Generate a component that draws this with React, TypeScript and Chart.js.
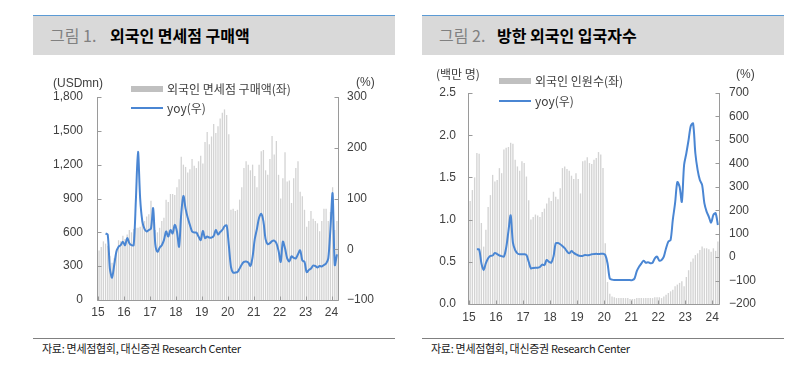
import React, { useEffect, useRef } from "react";
import { Chart, registerables } from "chart.js";

Chart.register(...registerables);

// ---------- data (monthly, Jan 2015 – Mar 2024) ----------
const YEAR_LABELS = ["15", "16", "17", "18", "19", "20", "21", "22", "23", "24"];

// 그림 1: 외국인 면세점 구매액 (USDmn)
const salesUsdMn = [
  440, 470, 520, 500, 480, 390, 330, 370, 450, 530, 520, 570,
  540, 580, 620, 600, 630, 640, 640, 650, 720, 700, 740, 760,
  880, 700, 620, 600, 640, 700, 730, 890, 870, 940, 940, 930,
  1000, 1070, 1270, 1200, 1180, 1130, 1160, 1250, 1190, 1170, 1230, 1280,
  1210, 1400, 1490, 1380, 1450, 1560, 1480, 1540, 1610, 1660, 1690, 1640,
  1470, 800, 810, 790, 800, 890, 1000, 1170, 1230, 1200, 1150, 1200,
  1100, 1000, 1200, 1320, 1330, 1150, 1110, 1250, 1455, 1290, 1410, 1110,
  900, 1080, 1310, 1050, 1060, 860, 1080, 1170, 1230, 960, 920, 800,
  650, 700, 790, 720, 700, 680, 610, 700, 810, 810, 700, 780,
  1000, 620, 700,
];

// 그림 1: yoy (%)
const salesYoy: (number | null)[] = [
  null, null, null, 31, 29, -38, -56, -31, -5, 5, 8, 15,
  8, 22, 12, 8, 8, 95, 192, 100, 55, 40, 35, 38,
  41, 81, 10, -5, 3, 8, 18, 35, 25, 38, 31, 48,
  35, 5, 70, 105, 80, 62, 48, 35, 33, 33, 25, 18,
  36, 22, 25, 23, 23, 26, 38, 29, 34, 38, 45, 47,
  8, -35, -46, -46, -45, -38, -30, -25, -24, -26, -33, -15,
  20, 40, 62, 70, 55, 20, 10, 12, 16, 17, 12, -3,
  -25, 15, 2, -18, -24, -14, -17, -18, -10, -2, -22, -25,
  -45, -41, -38, -32, -33, -36, -33, -34, -31, -28, -18, 40,
  110, -31, -10,
];

// 그림 2: 외국인 인원수 (백만 명)
const arrivalsMn = [
  1.22, 1.35, 1.5, 1.79, 1.78, 0.96, 0.68, 0.88, 1.15, 1.29, 1.53, 1.45,
  1.47, 1.61, 1.55, 1.83, 1.85, 1.86, 1.91, 1.9, 1.71, 1.63, 1.58, 1.69,
  1.67, 1.51, 1.23, 1.0, 1.03, 1.06, 1.05, 1.03, 1.09, 1.13, 1.19, 1.26,
  1.22, 1.33, 1.27, 1.24, 1.37, 1.61, 1.63, 1.6, 1.58, 1.52, 1.48, 1.55,
  1.48, 1.31, 1.69, 1.7, 1.74, 1.67, 1.66, 1.71, 1.73, 1.8, 1.77, 1.61,
  0.72, 0.26, 0.12, 0.09, 0.08, 0.07, 0.07, 0.07, 0.07, 0.07, 0.07, 0.06,
  0.06, 0.06, 0.07, 0.07, 0.07, 0.07, 0.07, 0.07, 0.07, 0.07, 0.08, 0.08,
  0.08, 0.07, 0.09, 0.11, 0.13, 0.15, 0.17, 0.21, 0.23, 0.25, 0.27, 0.21,
  0.32, 0.4, 0.5, 0.54, 0.58, 0.6, 0.64, 0.68, 0.66, 0.66, 0.65, 0.62,
  0.66, 0.63, 0.74,
];

// 그림 2: yoy (%)
const arrivalsYoy: (number | null)[] = [
  null, null, null, 33, 33, -26, -55, -26, -5, 5, 7, 18,
  13, 7, 4, 2, 40, 110, 178, 62, 30, 16, 12, 12,
  12, 9, -20, -48, -46, -45, -45, -42, -32, -34, -12, -20,
  -24, 2, 59, 60, 55, 47, 38, 25, 16, 26, 18, 12,
  7, 5, 5, 9, 8, 9, 12, 13, 14, 13, 14, 14,
  9, -26, -91, -96, -98, -98, -98, -98, -98, -98, -98, -98,
  -98, -91, -60, -41, -28, -15, -24, -22, -26, -24, -5, 2,
  -15, -12, 2, 38, 66, 73, 160, 230, 320, 300, 236, 393,
  443, 500, 560, 570, 443, 372, 329, 308, 230, 194, 172, 147,
  180, 187, 137,
];

// ---------- styles ----------
const BLUE = "#4a86d3";
const BAR = "#d3d3d3";
const AXIS = "#9a9a9a";
const TXT = "#404040";
const NUM_FONT = "'Liberation Sans', Arial, sans-serif";
const KR_FONT = "'Noto Sans CJK KR', 'Noto Sans', sans-serif";

const axisFrame = {
  id: "axisFrame",
  afterDraw(chart: any) {
    const { ctx, chartArea: a, scales } = chart;
    ctx.save();
    ctx.strokeStyle = AXIS;
    ctx.lineWidth = 1;
    const L = Math.round(a.left) - 0.5;
    const R = Math.round(a.right) + 0.5;
    const B = Math.round(a.bottom) + 0.5;
    const T = Math.round(a.top);
    ctx.beginPath();
    ctx.moveTo(L, T);
    ctx.lineTo(L, B);
    ctx.lineTo(R, B);
    ctx.lineTo(R, T);
    scales.y.ticks.forEach((t: any) => {
      const py = Math.round(scales.y.getPixelForValue(t.value)) + 0.5;
      ctx.moveTo(L, py);
      ctx.lineTo(L + 4, py);
    });
    scales.y1.ticks.forEach((t: any) => {
      const py = Math.round(scales.y1.getPixelForValue(t.value)) + 0.5;
      ctx.moveTo(R, py);
      ctx.lineTo(R - 4, py);
    });
    scales.x.ticks.forEach((t: any) => {
      const px = Math.round(scales.x.getPixelForValue(t.value)) + 0.5;
      ctx.moveTo(px, B);
      ctx.lineTo(px, B - 4);
    });
    ctx.stroke();
    ctx.restore();
  },
};

type AxisSpec = { min: number; max: number; step: number; fmt: (v: number) => string; pad: number };
type PanelProps = {
  left: number;
  top: number;
  width: number;
  height: number;
  leftW: number;
  rightW: number;
  topPad: number;
  bottomH: number;
  bars: number[];
  line: (number | null)[];
  yLeft: AxisSpec;
  yRight: AxisSpec;
  xPad: number;
};

const minusFmt = (v: number) => (v < 0 ? "\u2212" + Math.abs(v) : String(v));

function DualChart(p: PanelProps) {
  const ref = useRef<HTMLCanvasElement>(null);
  useEffect(() => {
    const n = p.bars.length;
    const font = { family: NUM_FONT, size: 12 };
    const chart = new Chart(ref.current as HTMLCanvasElement, {
      type: "bar",
      data: {
        datasets: [
          {
            type: "line",
            data: p.line.map((v, i) => ({ x: i + 0.5, y: v })),
            yAxisID: "y1",
            borderColor: BLUE,
            borderWidth: 2,
            pointRadius: 0,
            tension: 0.3,
            order: 0,
            spanGaps: false,
          } as any,
          {
            type: "bar",
            data: p.bars.map((v, i) => ({ x: i + 0.5, y: v })),
            yAxisID: "y",
            backgroundColor: BAR,
            barPercentage: 0.6,
            categoryPercentage: 1,
            order: 1,
          } as any,
        ],
      },
      options: {
        animation: false,
        responsive: false,
        events: [],
        layout: { padding: { top: p.topPad, left: 0, right: 0, bottom: 0 } },
        plugins: { legend: { display: false }, tooltip: { enabled: false } },
        scales: {
          x: {
            type: "linear",
            min: 0,
            max: n,
            offset: false,
            grid: { display: false, drawTicks: false, offset: false },
            border: { display: false },
            afterBuildTicks: (s: any) => {
              s.ticks = YEAR_LABELS.map((_, k) => ({ value: k * 12 }));
            },
            afterFit: (s: any) => {
              s.height = p.bottomH;
            },
            ticks: {
              autoSkip: false,
              maxRotation: 0,
              padding: p.xPad,
              color: TXT,
              font,
              callback: (v: any) => YEAR_LABELS[Math.round(Number(v) / 12)] ?? "",
            },
          },
          y: {
            position: "left",
            min: p.yLeft.min,
            max: p.yLeft.max,
            grid: { display: false, drawTicks: false },
            border: { display: false },
            afterFit: (s: any) => {
              s.width = p.leftW;
            },
            ticks: {
              stepSize: p.yLeft.step,
              padding: p.yLeft.pad,
              color: TXT,
              font,
              callback: (v: any) => p.yLeft.fmt(Number(v)),
            },
          },
          y1: {
            position: "right",
            min: p.yRight.min,
            max: p.yRight.max,
            grid: { display: false, drawTicks: false },
            border: { display: false },
            afterFit: (s: any) => {
              s.width = p.rightW;
            },
            ticks: {
              stepSize: p.yRight.step,
              padding: p.yRight.pad,
              color: TXT,
              font,
              callback: (v: any) => p.yRight.fmt(Number(v)),
            },
          },
        },
      } as any,
      plugins: [axisFrame as any],
    });
    return () => chart.destroy();
  }, []);
  return (
    <canvas
      ref={ref}
      width={p.width}
      height={p.height}
      style={{ position: "absolute", left: p.left, top: p.top, width: p.width, height: p.height }}
    />
  );
}

function Txt(props: {
  x: number;
  cy: number;
  size: number;
  text: string;
  color?: string;
  family?: string;
  weight?: number;
  ls?: number;
}) {
  const h = props.size + 6;
  return (
    <div
      style={{
        position: "absolute",
        left: props.x,
        top: props.cy - h / 2,
        height: h,
        lineHeight: h + "px",
        fontSize: props.size,
        fontFamily: props.family ?? KR_FONT,
        fontWeight: props.weight ?? 400,
        color: props.color ?? TXT,
        letterSpacing: props.ls ?? 0,
        whiteSpace: "nowrap",
      }}
    >
      {props.text}
    </div>
  );
}

function Header(props: { x: number; num: string; title: string; titleX: number }) {
  return (
    <>
      <div
        style={{
          position: "absolute",
          left: props.x,
          top: 15,
          width: 362,
          height: 39,
          background: "#d9d9d9",
          borderTop: "1px solid #5b9bd5",
        }}
      />
      <Txt x={props.x + 17} cy={35} size={16} text={props.num} color="#808080" />
      <Txt x={props.titleX} cy={35} size={16} text={props.title} color="#000" weight={700} />
    </>
  );
}

function Footer(props: { x: number }) {
  return (
    <>
      <div style={{ position: "absolute", left: props.x, top: 338, width: 362, height: 1, background: "#808080" }} />
      <Txt x={props.x + 9} cy={348} size={11} ls={-0.3} text="자료: 면세점협회, 대신증권 Research Center" color="#222" />
    </>
  );
}

function Legend(props: { x: number; y1: number; y2: number; barLabel: string }) {
  return (
    <>
      <div style={{ position: "absolute", left: props.x, top: props.y1 - 3, width: 32, height: 6, background: "#c0c0c0" }} />
      <Txt x={props.x + 36} cy={props.y1} size={12} text={props.barLabel} />
      <div style={{ position: "absolute", left: props.x, top: props.y2 - 1, width: 32, height: 2, background: BLUE }} />
      <Txt x={props.x + 36} cy={props.y2} size={12} text="yoy(우)" />
    </>
  );
}

export default function App() {
  return (
    <div
      style={{
        position: "fixed",
        left: 0,
        top: 0,
        width: 806,
        height: 384,
        background: "#fff",
        overflow: "hidden",
      }}
    >
      <Header x={33} num="그림 1." title="외국인 면세점 구매액" titleX={110} />
      <Header x={422} num="그림 2." title="방한 외국인 입국자수" titleX={497} />

      <DualChart
        left={20}
        top={60}
        width={380}
        height={270}
        leftW={78}
        rightW={62}
        topPad={37}
        bottomH={30}
        bars={salesUsdMn}
        line={salesYoy}
        yLeft={{ min: 0, max: 1800, step: 300, fmt: (v) => v.toLocaleString("en-US"), pad: 15 }}
        yRight={{ min: -100, max: 300, step: 100, fmt: minusFmt, pad: 9 }}
        xPad={5}
      />
      <DualChart
        left={420}
        top={60}
        width={386}
        height={274}
        leftW={49}
        rightW={87}
        topPad={33}
        bottomH={30}
        bars={arrivalsMn}
        line={arrivalsYoy}
        yLeft={{ min: 0, max: 2.5, step: 0.5, fmt: (v) => v.toFixed(1), pad: 13 }}
        yRight={{ min: -200, max: 700, step: 100, fmt: minusFmt, pad: 10 }}
        xPad={6}
      />

      <Txt x={53} cy={83} size={12} family={NUM_FONT} text="(USDmn)" />
      <Txt x={356} cy={82} size={12} family={NUM_FONT} text="(%)" />
      <Legend x={131} y1={89} y2={108} barLabel="외국인 면세점 구매액(좌)" />

      <Txt x={436} cy={74} size={12} text="(백만 명)" />
      <Txt x={736} cy={74} size={12} family={NUM_FONT} text="(%)" />
      <Legend x={499} y1={81} y2={101} barLabel="외국인 인원수(좌)" />

      <Footer x={33} />
      <Footer x={422} />
    </div>
  );
}
